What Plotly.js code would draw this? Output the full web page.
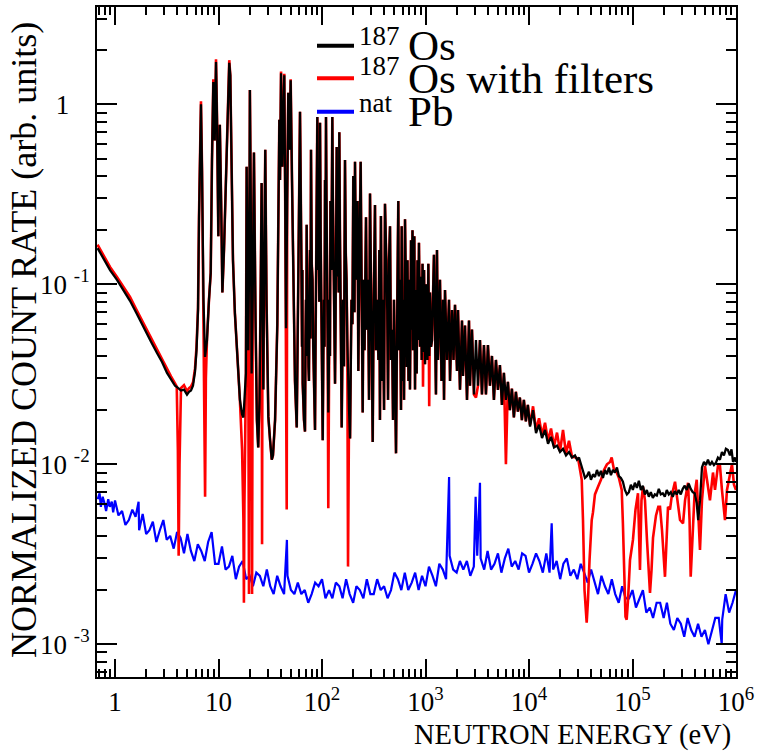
<!DOCTYPE html>
<html><head><meta charset="utf-8">
<script src="https://cdn.plot.ly/plotly-3.0.1.min.js"></script>
<style>html,body{margin:0;padding:0;background:#fff}#chart{width:766px;height:754px}</style>
</head><body><div id="chart"></div>
<script>
// ---- 187Os (black) ----
const os187Energy = [
0.678,0.783,0.895,1.045,1.195,1.396,1.595,1.744,1.993,2.228,2.545,2.845,3.18,3.475,3.80,4.06,4.34,4.64,4.96,5.19,5.42,5.67,5.93,6.13,6.34,
6.48,6.67,6.77,6.93,7.16,7.41,7.74,8.09,8.41,8.65,8.91,9.19,9.46,9.68,9.96,10.1,10.3,10.6,10.9,11.3,11.7,12.0,12.4,12.7,13.0,13.4,13.8,14.4,15.3,16.1,
16.9,17.4,17.8,18.4,18.7,19.1,19.4,19.8,20.1,20.5,20.9,21.4,22.0,22.8,23.5,24.2,24.9,25.6,26.1,26.6,27.1,27.7,28.3,29.1,30.3,31.5,32.7,33.6,35.2,37.0,38.0,38.7,39.3,40.2,41.3,42.3,43.2,44.1,44.9,46.1,47.2,48.5,49.8,51.3,52.8,54.8,57.0,59.0,61.3,
63.1,64.1,64.6,65.1,67.0,68.5,69.3,70.0,70.5,71.1,
72.2,73.2,74.0,74.8,75.7,76.6,77.4,78.3,79.6,81.0,
82.3,83.7,84.6,85.6,86.7,87.9,89.0,90.1,91.3,92.5,
94.1,95.7,97.1,98.5,100.0,101.6,103.0,104.5,105.7,106.9,
108.1,109.3,110.5,111.7,113.3,115.0,116.5,118.1,119.4,120.7,
123.2,125.8,127.4,129.1,131.3,133.6,135.1,136.6,137.6,138.7,
140.7,142.8,144.9,147.0,149.0,151.0,153.0,155.0,157.3,159.6,
163.2,166.8,169.7,172.6,175.5,178.4,182.5,186.6,189.7,192.8,
196.7,200.6,202.2,203.8,206.1,208.4,211.9,
215.4,220.3,224.3,230.1,236.4,241.9,247.3,251.8,257.6,266.2,272.1,278.3,284.6,291,300.8,309,314.6,325,332.5,340,351,357.8,363,371,380.2,388,397.5,406,418,427,434.4,444,454,464.2,475,485.6,496,507.6,519,534,546,554.3,567,579.7,589,599.8,611,620,634,648,658,669.6,685,697.4,708,724.5,736,748.6,757,780,792,801,822,837,852,864.6,885,905.4,919,935.9,946,967.8,989,1011,1045,1065,1086,1105,1131,
1155,1207,1262,1291,1320,1380,1428,1476,1510,1543,1614,1687,1725,1803,1865,
1928,2015,2061,2154,2252,2303,2408,2517,2631,2690,
2812,2940,3073,3213,3359,3511,3671,3837,4011,4194,4384,4583,4791,5009,5236,5474,5722,5982,6254,6538,6835,7145,7470,7809,8163,8534,8922,9327,9750,10230,
10940,11690,12500,13360,14280,15270,16320,17450,18650,19940,21310,22780,24350,26030,27830,
29090,30410,31790,33240,34750,36320,37970,39700,41500,43380,45350,47410,49560,51810,54160,56620,59190,61880,64690,67620,70690,73900,77260,80770,84430,88260,92270,96460,100800,105400,110200,115200,120400,125900,131600,137600,143800,150300,157200,164300,171700,179500,187700,196200,205100,214400,224200,234300,244900,256100,267700,279800,292500,305800,319700,334200,349400,365200,381800,399100,417300,
431400,448800,
469000,490400,512600,535900,560200,585600,612200,640000,669000,699500,731200,764400,799100,835400,873300,
905000,935700,978000,1000000];
const os187Rate = [
0.159,0.138,0.12,0.106,0.094,0.081,0.070,0.063,0.055,0.048,0.0415,0.037,0.0322,0.0295,0.0273,0.0266,0.0257,0.026,0.0244,0.0253,0.0257,0.0273,0.0327,0.043,0.072,
0.23,0.95,1.0,0.43,0.082,0.0395,0.049,0.082,0.116,0.49,1.33,0.63,1.72,0.82,0.185,0.38,0.77,0.29,0.09,0.155,0.33,0.57,0.93,1.70,1.45,0.305,0.136,0.069,0.038,0.0228,
0.0189,0.0182,0.0228,0.032,0.45,0.155,0.043,0.155,1.2,0.29,0.032,0.082,0.54,0.063,0.0176,0.0124,0.0228,0.106,0.365,0.082,0.026,0.155,0.56,0.082,0.0184,0.0136,0.0106,0.0112,0.0176,0.06,0.29,0.82,0.38,1.49,0.45,0.82,1.45,0.29,0.057,0.29,1.16,0.56,1.36,0.38,0.116,0.029,0.016,0.082,0.91,
0.155,0.045,0.12,0.028,0.0176,0.0152,0.05,0.082,0.04,0.214,
0.06,0.082,0.035,0.029,0.09,0.155,0.05,0.56,0.13,0.106,
0.045,0.029,0.02,0.0155,0.05,0.155,0.3,0.85,0.12,0.29,
0.08,0.79,0.18,0.082,0.03,0.0136,0.04,0.082,0.045,0.38,
0.12,0.85,0.3,0.155,0.05,0.0194,0.035,0.082,0.04,0.29,
0.12,0.85,0.3,0.155,0.045,0.028,0.06,0.155,0.07,0.58,
0.11,0.29,0.09,0.70,0.2,0.082,0.035,0.016,0.04,0.082,
0.035,0.49,0.15,0.106,0.05,0.029,0.02,0.0139,0.04,0.082,
0.06,0.40,0.09,0.23,0.07,0.48,0.15,
0.106,0.29,0.033,0.155,0.48,0.082,0.0194,0.106,0.043,0.236,0.056,0.106,0.0228,0.32,0.056,0.0133,0.063,0.276,0.043,0.082,0.038,0.155,0.0176,0.24,0.029,0.082,0.020,0.28,0.136,0.072,0.0228,0.136,0.21,0.038,0.056,0.0176,0.082,0.026,0.0115,0.082,0.29,0.043,0.106,0.020,0.21,0.029,0.082,0.0228,0.23,0.082,0.0347,0.136,0.029,0.106,0.026,0.176,0.056,0.20,0.043,0.185,0.026,0.093,0.032,0.136,0.049,0.17,0.045,0.11,0.038,0.13,0.042,0.12,0.036,0.10,0.038,0.13,0.04,0.09,0.045,
0.049,0.146,0.0244,0.155,0.038,0.106,0.029,0.082,0.0228,0.093,0.038,0.082,0.029,0.072,0.038,
0.077,0.033,0.072,0.026,0.063,0.031,0.059,0.0228,0.063,0.0273,
0.056,0.0244,0.049,0.0273,0.049,0.0244,0.046,0.0244,0.046,0.0273,0.040,0.0228,0.038,0.0259,0.0356,0.0214,0.0322,0.0228,0.0287,0.020,0.0263,0.0182,0.0253,0.0196,0.0235,0.0176,0.0228,0.0173,0.0214,0.0162,
0.020,0.0149,0.0166,0.014,0.0155,0.013,0.0142,0.0124,0.0127,0.0117,0.0122,0.0112,0.0117,0.0109,0.0112,
0.0106,0.0109,0.010,0.0091,0.0084,0.0086,0.0091,0.0082,0.0088,0.0085,0.0093,0.0086,0.0092,0.0084,0.0093,0.0088,0.0096,0.0087,0.0093,0.009,0.0096,0.0086,0.0084,0.008,0.0072,0.0068,0.007,0.0077,0.0072,0.0079,0.0074,0.0081,0.0072,0.0076,0.0068,0.0072,0.0066,0.007,0.0065,0.0068,0.0067,0.0073,0.0068,0.0069,0.0066,0.0072,0.0068,0.007,0.0066,0.0071,0.0068,0.0072,0.0068,0.0073,0.0076,0.0072,0.0078,0.0073,0.007,0.0069,0.0061,
0.0049,0.0063,
0.0096,0.0103,0.0099,0.0106,0.0099,0.0103,0.0099,0.0102,0.0109,0.0106,0.0117,0.0112,0.0122,0.012,0.0112,
0.0121,0.0103,0.0109,0.0103];

// ---- 187Os with filters (red) ----
const os187FiltEnergy = [
0.678,0.783,0.895,1.045,1.195,1.396,1.595,1.744,1.993,2.228,2.545,2.845,3.18,3.475,3.80,3.95,4.05,4.12,4.2,4.34,4.64,4.96,5.19,5.42,5.67,5.93,6.13,6.34,6.48,6.67,6.77,6.93,7.16,7.3,7.42,7.55,7.74,
8.09,8.41,8.65,8.91,9.19,9.46,9.68,9.96,10.1,10.3,10.6,10.9,11.3,11.7,12.0,12.4,12.7,13.0,13.4,13.8,14.4,15.3,16.1,
16.9,17.4,17.6,17.8,18.4,18.7,19.1,19.4,19.7,19.9,20.1,20.5,20.9,21.1,21.4,22.0,22.8,23.5,24.2,24.9,25.6,26.1,26.35,26.6,27.1,27.7,28.3,29.1,30.3,31.5,32.7,33.6,35.2,37.0,38.0,38.7,39.3,40.2,41.3,42.3,43.2,44.1,44.9,45.6,46.1,47.2,48.5,49.8,51.3,52.8,54.8,57.0,59.0,61.3,
63.1,64.1,64.6,65.1,67.0,68.5,69.3,70.0,70.5,71.1,
72.2,73.2,74.0,74.8,75.7,76.6,77.4,78.3,79.6,81.0,
82.3,83.7,84.6,85.6,86.7,87.9,89.0,90.1,91.3,92.5,
94.1,95.7,97.1,98.5,100.0,101.6,103.0,104.5,105.7,106.9,
108.1,109.3,110.5,111.7,113.3,115.0,116.5,118.1,119.4,120.7,
123.2,125.8,127.4,129.1,131.3,133.6,135.1,136.6,137.6,138.7,
140.7,142.8,144.9,147.0,149.0,151.0,153.0,155.0,157.3,159.6,
163.2,166.8,169.7,172.6,175.5,178.4,182.5,186.6,189.7,192.8,
196.7,200.6,202.2,203.8,206.1,208.4,211.9,
215.4,220.3,224.3,230.1,236.4,241.9,247.3,251.8,257.6,266.2,272.1,278.3,284.6,291,300.8,309,314.6,325,332.5,340,351,357.8,363,371,380.2,388,397.5,406,418,427,434.4,444,454,464.2,475,485.6,496,507.6,519,534,546,554.3,567,579.7,589,599.8,611,620,634,648,658,669.6,685,697.4,708,724.5,736,748.6,757,780,792,801,822,837,852,864.6,885,905.4,919,935.9,946,967.8,989,1011,1045,1065,1086,1105,1131,
1155,1207,1262,1291,1320,1380,1428,1476,1510,1543,1614,1687,1725,1803,1865,
1928,2015,2061,2154,2252,2303,2408,2517,2631,2690,
2812,2940,3073,3213,3359,3511,3671,3837,4011,4194,4384,4583,4791,5009,5236,5474,5722,5982,6254,6538,6835,7145,7470,7809,8163,8534,8922,9327,9750,
10230,10940,11690,12500,13360,14280,15270,16320,17450,18650,19940,21310,22780,24350,26030,
28440,29950,31120,32310,33240,34390,36080,37150,38440,40360,41500,43380,46430,49560,53040,56620,60640,62940,66240,70310,73900,78700,80770,83700,85550,87850,90540,94600,101000,106900,113000,118100,122100,126300,132000,138000,147600,152700,157800,168700,177600,184400,192800,206000,213100,220300,230300,240800,257500,272300,287900,307800,321900,344000,355800,365000,380000,397500,417200,432500,448800,469000,501400,524300,560200,599200,626600,669600,700000,731500,782800,818300,874500,914400,956200,1000000];
const os187FiltRate = [
0.166,0.144,0.125,0.11,0.098,0.085,0.073,0.066,0.057,0.05,0.0435,0.0385,0.0336,0.0308,0.0282,0.027,0.012,0.0031,0.010,0.0265,0.0275,0.0255,0.0265,0.027,0.0285,0.034,0.045,0.074,0.24,1.0,1.04,0.44,0.084,0.03,0.0066,0.03,0.05,
0.082,0.116,0.49,1.38,0.63,1.78,0.82,0.185,0.38,0.77,0.29,0.09,0.155,0.33,0.57,0.93,1.76,1.45,0.305,0.136,0.069,0.038,0.0228,
0.012,0.005,0.0017,0.006,0.032,0.45,0.155,0.043,0.0019,0.155,1.2,0.29,0.032,0.0019,0.082,0.54,0.063,0.0176,0.0124,0.0228,0.106,0.365,0.0036,0.082,0.026,0.155,0.56,0.082,0.0184,0.0136,0.0106,0.0112,0.0176,0.06,0.29,0.82,0.38,1.52,0.45,0.82,1.48,0.29,0.057,0.0056,0.29,1.16,0.56,1.38,0.38,0.116,0.029,0.016,0.082,0.91,
0.155,0.045,0.12,0.028,0.0176,0.0152,0.05,0.082,0.04,0.214,
0.06,0.082,0.035,0.029,0.09,0.155,0.05,0.56,0.13,0.106,
0.045,0.029,0.02,0.0155,0.05,0.155,0.3,0.85,0.12,0.29,
0.08,0.79,0.18,0.082,0.03,0.0136,0.04,0.082,0.045,0.38,
0.12,0.85,0.3,0.155,0.05,0.0057,0.035,0.082,0.04,0.29,
0.12,0.85,0.3,0.155,0.045,0.028,0.06,0.155,0.07,0.58,
0.11,0.29,0.09,0.70,0.2,0.082,0.035,0.016,0.04,0.082,
0.035,0.49,0.15,0.106,0.05,0.0027,0.02,0.0139,0.04,0.082,
0.06,0.40,0.09,0.23,0.07,0.48,0.15,
0.106,0.29,0.033,0.155,0.48,0.082,0.0194,0.106,0.043,0.236,0.056,0.106,0.0228,0.32,0.056,0.0133,0.063,0.276,0.043,0.082,0.038,0.155,0.0176,0.24,0.029,0.082,0.020,0.28,0.136,0.072,0.0228,0.136,0.21,0.038,0.056,0.0176,0.082,0.026,0.0115,0.082,0.29,0.043,0.106,0.020,0.21,0.029,0.082,0.0228,0.23,0.082,0.0347,0.136,0.029,0.106,0.026,0.176,0.056,0.20,0.043,0.185,0.026,0.093,0.032,0.136,0.049,0.17,0.045,0.11,0.038,0.13,0.027,0.12,0.036,0.10,0.038,0.13,0.021,0.09,0.045,
0.049,0.146,0.0244,0.155,0.038,0.106,0.029,0.082,0.0228,0.093,0.038,0.082,0.029,0.072,0.038,
0.077,0.033,0.072,0.026,0.063,0.031,0.059,0.0228,0.063,0.0273,
0.056,0.0244,0.0235,0.0273,0.049,0.0244,0.046,0.0244,0.046,0.0273,0.040,0.0228,0.038,0.0259,0.0356,0.0214,0.0322,0.010,0.0287,0.020,0.0263,0.0182,0.0253,0.0196,0.0235,0.0176,0.0228,0.0173,0.0214,
0.0165,0.021,0.0155,0.018,0.0145,0.017,0.0135,0.0158,0.0126,0.015,0.0118,0.0155,0.0115,0.0135,0.011,
0.0109,0.0106,0.0093,0.0082,0.0049,0.0020,0.00132,0.00176,0.00294,0.0049,0.0054,0.0068,0.0075,0.0082,0.0093,0.010,0.0103,0.0109,0.0093,0.009,0.0084,0.0072,0.0047,0.00228,0.00142,0.00137,0.00176,0.00294,0.0038,0.0056,0.0069,0.00259,0.0063,0.0075,0.0063,0.0038,0.00193,0.00259,0.0039,0.0052,0.0058,0.0058,0.0043,0.00237,0.0038,0.0058,0.0056,0.0068,0.0080,0.0063,0.0049,0.0047,0.0063,0.0079,0.0049,0.00237,0.0043,0.0068,0.0082,0.0049,0.00334,0.0063,0.0098,0.0082,0.0063,0.009,0.0072,0.0098,0.0098,0.0072,0.0049,0.0072,0.009,0.010,0.0077,0.0072];

// ---- natPb (blue) ----
const pbEnergy = [
0.68,0.71,0.73,0.76,0.79,0.82,0.86,0.89,0.93,0.96,
1.00,1.08,1.17,1.26,1.36,1.47,1.58,1.69,1.71,1.85,2.00,2.15,2.32,2.51,2.71,2.93,3.16,3.41,3.69,3.98,4.30,4.64,5.01,5.41,5.84,6.31,6.81,7.36,7.94,8.58,9.26,
10,10.8,11.7,12.6,13.6,14.7,15.8,17.1,18.5,20,21.5,23.2,25.1,27.1,29.3,31.6,34.1,36.9,39.8,43,45.8,46.4,50.1,54.1,58.4,63.1,68.1,73.6,79.4,85.8,92.6,
100,108,117,126,136,147,158,171,185,200,215,232,251,271,293,316,341,369,398,430,464,501,541,584,631,681,736,794,858,926,
1000,1080,1170,1260,1360,1470,1580,1690,1710,1850,2000,2150,2320,2510,2710,2930,3050,3160,3360,3410,3690,3980,4300,4640,5010,5410,5840,6310,6810,7360,7940,8580,9260,
10000,10800,11700,12600,13600,14700,15800,16560,17100,18500,20000,21500,23200,25100,27100,29300,31600,34100,36900,39800,43000,46400,50100,54100,58400,63100,68100,73600,79400,85800,92600,
100000,108000,117000,126000,136000,147000,158000,171000,185000,200000,215000,232000,251000,271000,293000,316000,341000,369000,398000,430000,464000,501000,541000,584000,631000,681000,728000,736000,794000,858000,926000,1000000];
const pbRate = [
0.0064,0.0069,0.0058,0.0066,0.0061,0.0055,0.0064,0.0058,0.0062,0.0054,
0.0063,0.0052,0.0055,0.0046,0.0049,0.0056,0.0051,0.0062,0.0043,0.0053,0.0041,0.0043,0.0048,0.0037,0.0043,0.0049,0.0038,0.0040,0.0034,0.0042,0.0039,0.0032,0.0041,0.0033,0.0029,0.0036,0.0033,0.0029,0.0037,0.0042,0.0028,
0.0028,0.0035,0.0026,0.0027,0.0031,0.0023,0.0027,0.0029,0.0023,0.0024,0.0021,0.0025,0.0024,0.0021,0.0026,0.0021,0.0019,0.0024,0.0021,0.0019,0.0038,0.0024,0.0020,0.0019,0.0022,0.0019,0.0020,0.0017,0.0019,0.0022,0.0021,
0.0023,0.0018,0.0020,0.0018,0.0022,0.0021,0.0018,0.0023,0.0019,0.0017,0.0021,0.0020,0.0018,0.0023,0.0019,0.0019,0.0023,0.0020,0.0021,0.0018,0.0020,0.0025,0.0023,0.0020,0.0025,0.0020,0.0022,0.0025,0.0020,0.0024,
0.0021,0.0027,0.0024,0.0021,0.0028,0.0026,0.0023,0.0085,0.0031,0.0026,0.0025,0.0029,0.0026,0.0029,0.0024,0.0027,0.0066,0.0031,0.0079,0.0030,0.0026,0.0033,0.0026,0.0028,0.0032,0.0025,0.0030,0.0034,0.0027,0.0029,0.0026,0.0032,0.0031,
0.0025,0.0028,0.0032,0.0029,0.0025,0.0032,0.0025,0.0047,0.0026,0.0029,0.0023,0.0028,0.0030,0.0024,0.0026,0.0023,0.0028,0.0025,0.0022,0.0026,0.0022,0.0019,0.0024,0.0021,0.0019,0.0023,0.0019,0.0017,0.0021,0.0018,0.0018,
0.0020,0.0016,0.0018,0.0020,0.0015,0.0016,0.0014,0.0017,0.0017,0.0014,0.0017,0.0013,0.0012,0.0014,0.0013,0.0011,0.0014,0.0012,0.0011,0.0013,0.0011,0.0012,0.0010,0.0012,0.0014,0.0014,0.0010,0.00137,0.0019,0.0015,0.0017,0.0020];

// ---- axes ----
const xTickVals = [1,10,100,1000,10000,100000,1000000];
const xTickText = ['1','10','10<sup>2</sup>','10<sup>3</sup>','10<sup>4</sup>','10<sup>5</sup>','10<sup>6</sup>'];
const xMinorVals = [0.7,0.8,0.9,2,3,4,5,6,7,8,9,20,30,40,50,60,70,80,90,200,300,400,500,600,700,800,900,2000,3000,4000,5000,6000,7000,8000,9000,20000,30000,40000,50000,60000,70000,80000,90000,200000,300000,400000,500000,600000,700000,800000,900000];
const yTickVals = [0.001,0.01,0.1,1];
const yTickText = ['10&nbsp;<sup>-3</sup>','10&nbsp;<sup>-2</sup>','10&nbsp;<sup>-1</sup>','1&nbsp;&nbsp;&nbsp;'];
const yMinorVals = [0.0007,0.0008,0.0009,0.002,0.003,0.004,0.005,0.006,0.007,0.008,0.009,0.02,0.03,0.04,0.05,0.06,0.07,0.08,0.09,0.2,0.3,0.4,0.5,0.6,0.7,0.8,0.9,2,3];

// ---- legend ----
const legendSup = ['187','187','nat'];
const legendText = ['Os','Os with filters','Pb'];
const seriesColors = ['#000000','#ff0000','#0000ff'];

[[os187Energy,os187Rate],[os187FiltEnergy,os187FiltRate],[pbEnergy,pbRate]].forEach(function(p,i){
  if(p[0].length!==p[1].length) throw new Error('length mismatch series '+i+': '+p[0].length+' vs '+p[1].length);
});

const FONT = 'Liberation Serif';
const traces = [
  {x:pbEnergy, y:pbRate, type:'scatter', mode:'lines', line:{color:seriesColors[2], width:2.2}, name:'natPb'},
  {x:os187FiltEnergy, y:os187FiltRate, type:'scatter', mode:'lines', line:{color:seriesColors[1], width:2.6}, name:'187Os with filters'},
  {x:os187Energy, y:os187Rate, type:'scatter', mode:'lines', line:{color:seriesColors[0], width:2.3}, name:'187Os'}
];

const legRowsY = [0.9422, 0.8936, 0.8437];
const supY = [0.9569, 0.9121, 0.8573];
const shapes = legRowsY.map(function(y,i){
  return {type:'line', xref:'paper', yref:'paper', x0:0.3443, x1:0.4022, y0:y, y1:y, line:{color:seriesColors[i], width:4}};
});
const annotations = [];
legendSup.forEach(function(t,i){
  annotations.push({xref:'paper', yref:'paper', x:0.407, y:supY[i], xanchor:'left', yanchor:'middle', text:t, showarrow:false, font:{family:FONT, size:27, color:'#000'}});
});
legendText.forEach(function(t,i){
  annotations.push({xref:'paper', yref:'paper', x:0.484, y:legRowsY[i], xanchor:'left', yanchor:'middle', text:t, showarrow:false, font:{family:FONT, size:43, color:'#000'}});
});
annotations.push({xref:'paper', yref:'paper', x:0.9953, y:-0.0873, xanchor:'right', yanchor:'middle', text:'NEUTRON ENERGY (eV)', showarrow:false, font:{family:FONT, size:28.5, color:'#000'}});
annotations.push({xref:'paper', yref:'paper', x:-0.1142, y:0.503, xanchor:'center', yanchor:'middle', textangle:-90, text:'NORMALIZED COUNT RATE (arb. units)', showarrow:false, font:{family:FONT, size:36, color:'#000'}});

const axisCommon = {
  type:'log', tickmode:'array', ticks:'inside', tickwidth:2, tickcolor:'#000',
  showline:true, linewidth:2, linecolor:'#000', mirror:'ticks', showgrid:false, zeroline:false,
  tickfont:{family:FONT, size:27, color:'#000'}
};
const layout = {
  width:766, height:754,
  margin:{l:97, r:30, t:7, b:77, pad:0},
  paper_bgcolor:'#fff', plot_bgcolor:'#fff',
  showlegend:false,
  xaxis:Object.assign({}, axisCommon, {range:[-0.174, 6.0], tickvals:xTickVals, ticktext:xTickText, ticklen:18,
    minor:{tickmode:'array', tickvals:xMinorVals, ticks:'inside', ticklen:8, tickwidth:2, tickcolor:'#000', showgrid:false}}),
  yaxis:Object.assign({}, axisCommon, {range:[-3.182, 0.541], tickvals:yTickVals, ticktext:yTickText, ticklen:20,
    minor:{tickmode:'array', tickvals:yMinorVals, ticks:'inside', ticklen:10, tickwidth:2, tickcolor:'#000', showgrid:false}}),
  shapes:shapes,
  annotations:annotations
};
Plotly.newPlot('chart', traces, layout, {staticPlot:true, displayModeBar:false});
</script>
</body></html>
